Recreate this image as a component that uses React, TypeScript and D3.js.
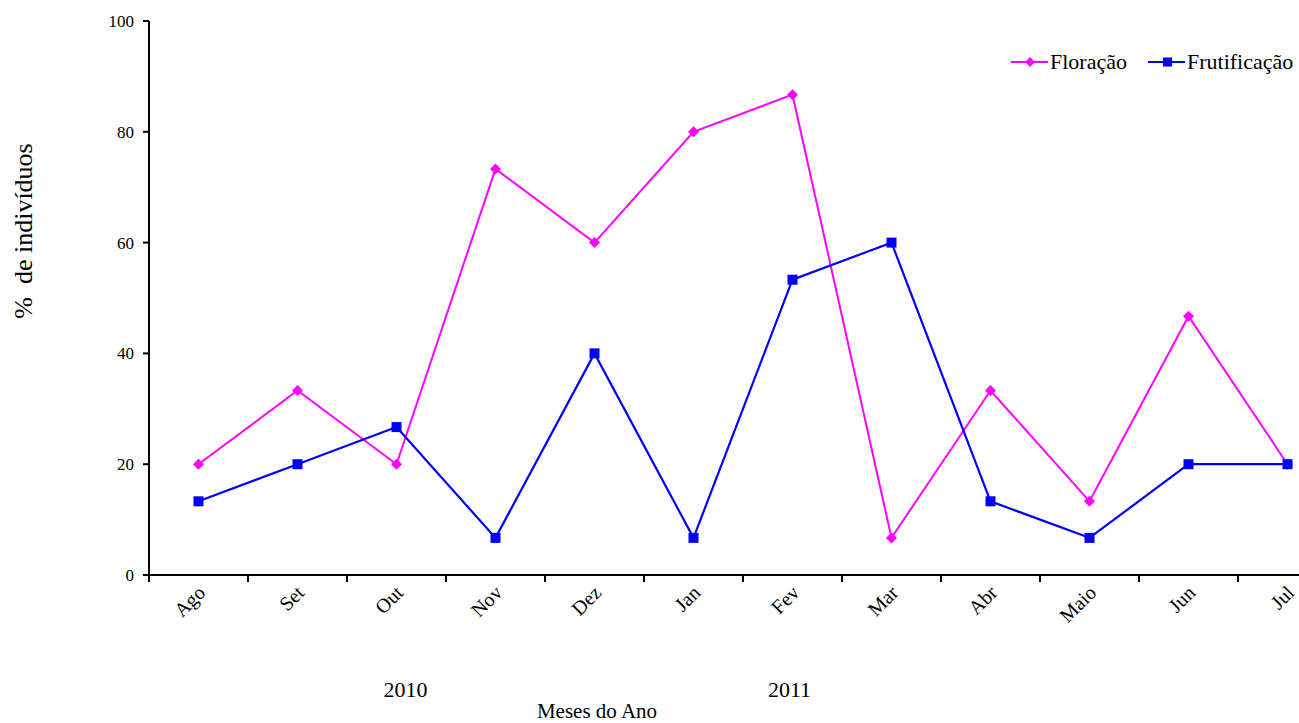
import React from "react";
import * as d3 from "d3";

const months = ["Ago", "Set", "Out", "Nov", "Dez", "Jan", "Fev", "Mar", "Abr", "Maio", "Jun", "Jul"];
const floracao = [20, 33.3, 20, 73.3, 60, 80, 86.7, 6.7, 33.3, 13.3, 46.7, 20];
const frutificacao = [13.3, 20, 26.7, 6.7, 40, 6.7, 53.3, 60, 13.3, 6.7, 20, 20];
const yTicks = [0, 20, 40, 60, 80, 100];
const years = [
  { label: "2010", month: "Out", shift: 9 },
  { label: "2011", month: "Fev", shift: -3 },
];

const FONT = "Liberation Serif, Times New Roman, serif";
const W = 1299;
const H = 723;
const left = 149;
const step = 99;
const top = 21;
const bottom = 575;

export default function App() {
  const x = d3.scaleBand<string>().domain(months).range([left, left + step * months.length]).padding(0);
  const cx = (m: string) => (x(m) as number) + x.bandwidth() / 2;
  const y = d3.scaleLinear().domain([0, 100]).range([bottom, top]);
  const line = d3
    .line<number>()
    .x((_, i) => cx(months[i]))
    .y((v) => y(v));
  const pink = "#ff00ff";
  const blue = "#0000ff";
  const diamond = (px: number, py: number, r = 5.5) =>
    `M${px},${py - r}L${px + r},${py}L${px},${py + r}L${px - r},${py}Z`;

  return (
    <svg width={W} height={H} style={{ position: "absolute", left: 0, top: 0, background: "#fff" }}>
      <g style={{ fontFamily: FONT }} fill="#000">
        {/* axes */}
        <line x1={left} x2={left} y1={top} y2={bottom} stroke="#000" strokeWidth={2} />
        <line x1={left - 6} x2={W} y1={bottom} y2={bottom} stroke="#000" strokeWidth={2} />
        {yTicks.map((t) => (
          <g key={t}>
            <line x1={left - 6} x2={left} y1={y(t)} y2={y(t)} stroke="#000" strokeWidth={2} />
            <text x={left - 15} y={y(t)} dy="0.35em" textAnchor="end" fontSize={17}>
              {t}
            </text>
          </g>
        ))}
        {months.map((m) => (
          <g key={m}>
            <line x1={x(m) as number} x2={x(m) as number} y1={bottom} y2={bottom + 7} stroke="#000" strokeWidth={2} />
            <text transform={`translate(${cx(m) + 8},${bottom + 19}) rotate(-45)`} textAnchor="end" fontSize={20}>
              {m}
            </text>
          </g>
        ))}
        {years.map((yr) => (
          <text key={yr.label} x={cx(yr.month) + yr.shift} y={697} textAnchor="middle" fontSize={22}>
            {yr.label}
          </text>
        ))}
        <text x={597} y={718} textAnchor="middle" fontSize={21}>
          Meses do Ano
        </text>
        <text transform={`translate(32,231) rotate(-90)`} textAnchor="middle" fontSize={26}>
          {"%\u00a0 de indivíduos"}
        </text>

        {/* series */}
        <path d={line(floracao) || ""} fill="none" stroke={pink} strokeWidth={2} />
        <path d={line(frutificacao) || ""} fill="none" stroke={blue} strokeWidth={2.2} />
        {floracao.map((v, i) => (
          <path key={"f" + i} d={diamond(cx(months[i]), y(v))} fill={pink} />
        ))}
        {frutificacao.map((v, i) => (
          <rect key={"r" + i} x={cx(months[i]) - 5} y={y(v) - 5} width={10} height={10} fill={blue} />
        ))}

        {/* legend */}
        <line x1={1011} x2={1048} y1={62} y2={62} stroke={pink} strokeWidth={2} />
        <path d={diamond(1030, 62, 5)} fill={pink} />
        <text x={1050} y={69} fontSize={22}>
          Floração
        </text>
        <line x1={1148} x2={1185} y1={62} y2={62} stroke={blue} strokeWidth={2} />
        <rect x={1163} y={57.5} width={9} height={9} fill={blue} />
        <text x={1187} y={69} fontSize={22}>
          Frutificação
        </text>
      </g>
    </svg>
  );
}
